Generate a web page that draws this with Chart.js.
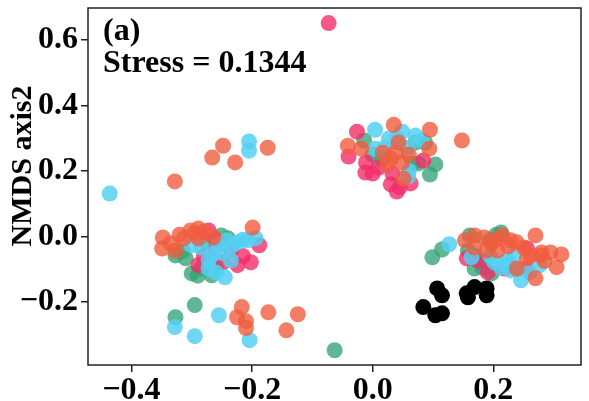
<!DOCTYPE html>
<html>
<head>
<meta charset="utf-8">
<script src="https://cdn.jsdelivr.net/npm/chart.js@4"></script>
<style>
  html, body { margin: 0; padding: 0; background: #fff; }
  #wrap { width: 589px; height: 401px; }
</style>
</head>
<body>
<div id="wrap"><canvas id="chart"></canvas></div>
<script>
// NMDS scores ([axis1, axis2])
const greenPts = [
  [-0.295, -0.210], [-0.327, -0.247], [-0.063, -0.348],
  [-0.300, -0.113], [-0.327, -0.058], [-0.310, -0.067], [-0.267, -0.119],
  [-0.251, 0.003], [-0.284, -0.098], [-0.240, -0.006],
  [-0.290, -0.120], [-0.260, -0.095], [-0.315, -0.045], [-0.275, -0.020],
  [-0.014, 0.293], [0.015, 0.235], [0.071, 0.287], [0.076, 0.223],
  [0.104, 0.220], [0.095, 0.189], [0.066, 0.223], [0.087, 0.287], [0.000, 0.250],
  [0.099, -0.064], [0.115, -0.040], [0.161, 0.003], [0.213, 0.012],
  [0.158, -0.043], [0.169, -0.098], [0.182, -0.095], [0.197, -0.113], [0.194, -0.012],
  [0.170, -0.060], [0.185, -0.075], [0.205, 0.005]
];
const pinkPts = [
  [-0.073, 0.652],
  [-0.272, 0.018], [-0.188, -0.027], [-0.202, -0.079], [-0.224, -0.088],
  [-0.235, -0.043], [-0.289, -0.088], [-0.248, -0.079], [-0.259, -0.012],
  [-0.265, -0.050], [-0.215, -0.060], [-0.280, -0.060],
  [-0.026, 0.320], [-0.040, 0.244], [-0.011, 0.226], [-0.012, 0.195],
  [0.000, 0.192], [0.033, 0.192], [0.030, 0.159], [0.040, 0.137],
  [0.063, 0.162], [0.084, 0.232], [0.010, 0.210], [0.045, 0.150],
  [0.156, -0.067], [0.191, -0.110], [0.254, -0.098], [0.256, -0.037], [0.218, -0.098],
  [0.175, -0.075]
];
const cyanPts = [
  [-0.436, 0.131], [-0.205, 0.290], [-0.205, 0.262],
  [-0.328, -0.277], [-0.295, -0.305], [-0.255, -0.241], [-0.204, -0.317],
  [-0.245, -0.125], [-0.272, -0.098], [-0.272, -0.073], [-0.235, -0.073],
  [-0.243, -0.012], [-0.224, -0.018], [-0.207, -0.012], [-0.300, -0.027],
  [-0.284, -0.034], [-0.256, -0.027], [-0.194, -0.006], [-0.232, -0.027],
  [-0.260, -0.110], [-0.265, -0.055], [-0.215, -0.010], [-0.250, -0.050],
  [0.004, 0.326], [0.049, 0.320], [0.027, 0.299], [0.005, 0.268],
  [0.058, 0.271], [0.082, 0.293], [0.059, 0.183], [0.071, 0.308],
  [0.040, 0.300], [0.020, 0.270], [0.060, 0.200],
  [0.127, -0.024], [0.164, -0.064], [0.213, -0.095], [0.223, -0.073],
  [0.229, -0.104], [0.246, -0.134], [0.277, -0.088], [0.202, -0.079], [0.234, -0.058],
  [0.220, -0.085], [0.240, -0.100], [0.195, -0.060], [0.260, -0.110]
];
const orangePts = [
  [-0.328, 0.168], [-0.266, 0.241], [-0.248, 0.277], [-0.228, 0.226], [-0.174, 0.271],
  [-0.217, -0.216], [-0.225, -0.247], [-0.210, -0.259], [-0.210, -0.280],
  [-0.173, -0.232], [-0.143, -0.287], [-0.124, -0.238],
  [-0.348, -0.003], [-0.349, -0.037], [-0.327, -0.043], [-0.335, -0.021],
  [-0.302, 0.018], [-0.289, 0.024], [-0.289, -0.006], [-0.264, -0.003],
  [-0.199, 0.027], [-0.313, -0.006], [-0.320, 0.005], [-0.295, 0.010], [-0.280, 0.015],
  [0.035, 0.341], [0.095, 0.326], [0.148, 0.293], [-0.041, 0.277],
  [-0.019, 0.268], [0.017, 0.256], [0.043, 0.287], [0.038, 0.256],
  [0.049, 0.226], [0.094, 0.268], [0.051, 0.177], [0.030, 0.238],
  [0.060, 0.250], [0.025, 0.220],
  [0.169, 0.003], [0.185, -0.003], [0.215, 0.003], [0.229, -0.012],
  [0.270, 0.003], [0.169, -0.034], [0.189, -0.043], [0.207, -0.043],
  [0.197, -0.021], [0.239, -0.098], [0.256, -0.067], [0.270, -0.128],
  [0.279, -0.058], [0.295, -0.049], [0.305, -0.094], [0.313, -0.055],
  [0.280, -0.049], [0.251, -0.034], [0.262, -0.058], [0.239, -0.018], [0.153, -0.012],
  [0.205, -0.010], [0.225, -0.030], [0.285, -0.075]
];
const blackPts = [
  [0.084, -0.216], [0.107, -0.159], [0.115, -0.180], [0.104, -0.241], [0.115, -0.235],
  [0.156, -0.174], [0.169, -0.155], [0.158, -0.186], [0.189, -0.159], [0.189, -0.180]
];

const xTicks = [-0.4, -0.2, 0.0, 0.2];
const yTicks = [-0.2, 0.0, 0.2, 0.4, 0.6];
const yTitle = 'NMDS axis2';
const panelLabel = '(a)';
const stressLabel = 'Stress = 0.1344';

const serif = '"Liberation Serif", "Times New Roman", serif';

const toXY = pts => pts.map(p => ({ x: p[0], y: p[1] }));
const fmt = v => (v < 0 ? '\u2212' : '') + Math.abs(v).toFixed(1);

// chart.js paints lower `order` on top, so order = stacking from top
function series(pts, color, order) {
  return {
    data: toXY(pts),
    backgroundColor: color,
    borderWidth: 0,
    pointRadius: 8,
    pointHoverRadius: 8,
    order: order
  };
}

// text + frame that ggplot draws around the panel
const decorations = {
  id: 'decorations',
  afterDraw(chart) {
    const { ctx, chartArea } = chart;
    ctx.save();
    ctx.strokeStyle = '#222';
    ctx.lineWidth = 1.5;
    ctx.strokeRect(chartArea.left, chartArea.top, chartArea.right - chartArea.left, chartArea.bottom - chartArea.top);

    ctx.fillStyle = '#000';
    ctx.font = 'bold 32px ' + serif;
    ctx.textAlign = 'left';
    ctx.textBaseline = 'alphabetic';
    ctx.fillText(panelLabel, 103, 40);
    ctx.fillText(stressLabel, 103, 72);

    ctx.font = 'bold 30px ' + serif;
    ctx.translate(31, 166);
    ctx.rotate(-Math.PI / 2);
    ctx.textAlign = 'center';
    ctx.fillText(yTitle, 0, 0);
    ctx.restore();
  }
};

new Chart(document.getElementById('chart'), {
  type: 'scatter',
  data: {
    datasets: [
      series(greenPts, 'rgba(55, 165, 120, 0.8)', 5),
      series(pinkPts, 'rgba(242, 45, 105, 0.8)', 4),
      series(cyanPts, 'rgba(85, 208, 242, 0.85)', 3),
      series(orangePts, 'rgba(240, 92, 62, 0.8)', 2),
      series(blackPts, 'rgba(0, 0, 0, 1)', 1)
    ]
  },
  options: {
    responsive: true,
    maintainAspectRatio: false,
    animation: false,
    layout: { padding: { top: 7, right: 1, left: 0, bottom: 0 } },
    plugins: {
      legend: { display: false },
      tooltip: { enabled: false }
    },
    scales: {
      x: {
        type: 'linear',
        min: -0.472,
        max: 0.3455,
        afterBuildTicks: s => { s.ticks = xTicks.map(v => ({ value: v })); },
        afterFit: s => { s.height = 36; s.paddingLeft = 0; s.paddingRight = 0; },
        grid: { drawOnChartArea: false, drawTicks: true, tickLength: 7, color: '#222', lineWidth: 1.5 },
        border: { display: false },
        ticks: {
          color: '#000',
          font: { family: serif, size: 32, weight: 'bold' },
          padding: 0,
          maxRotation: 0,
          callback: v => fmt(v)
        }
      },
      y: {
        type: 'linear',
        min: -0.393,
        max: 0.698,
        afterBuildTicks: s => { s.ticks = yTicks.map(v => ({ value: v })); },
        afterFit: s => { s.width = 88; s.paddingTop = 0; s.paddingBottom = 0; },
        grid: { drawOnChartArea: false, drawTicks: true, tickLength: 7, color: '#222', lineWidth: 1.5 },
        border: { display: false },
        ticks: {
          color: '#000',
          font: { family: serif, size: 32, weight: 'bold' },
          padding: 3,
          callback: v => fmt(v)
        }
      }
    }
  },
  plugins: [decorations]
});
</script>
</body>
</html>
